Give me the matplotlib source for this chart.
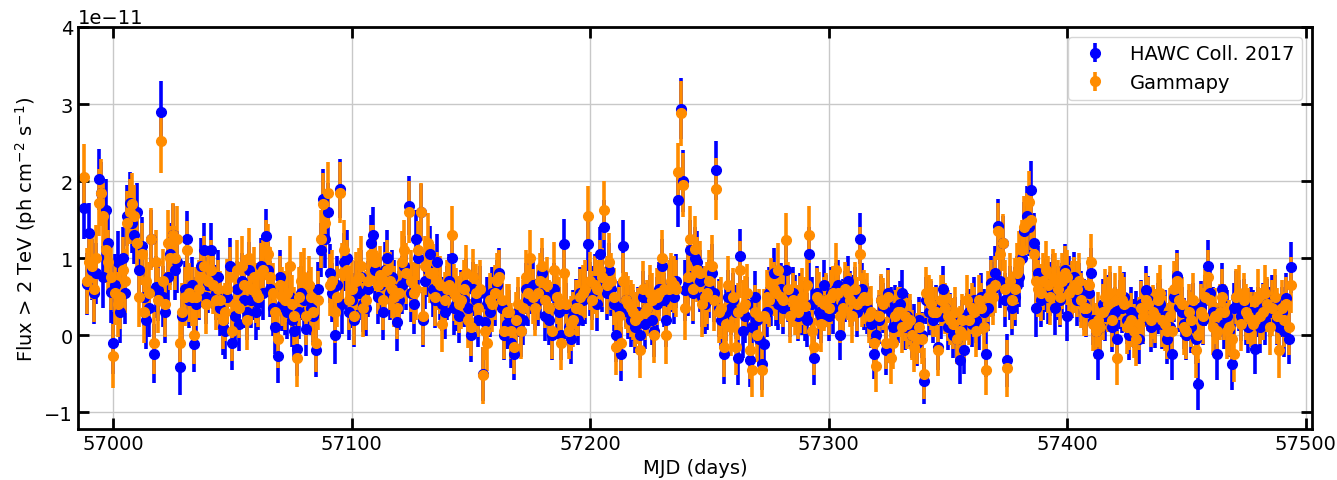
import numpy as np
import matplotlib.pyplot as plt

# daily light curve, flux > 2 TeV in units of 1e-11 ph cm-2 s-1
mjd_start = 56988
mjd_stop = 57495

hawc_flux = [
    1.65, 0.66, 1.32, 0.85, 0.55, 0.80, 2.02, 1.85, 0.75, 1.62,
    1.20, 0.56, -0.10, 0.65, 0.95, 0.30, 1.00, 0.55, 1.55, 1.72,
    1.45, 1.30, 1.60, 0.85, 1.15, 0.50, 0.20, 0.35, 1.25, -0.24,
    0.62, 0.58, 2.90, 0.50, 0.30, 0.75, 1.05, 1.30, 0.85, 0.95,
    -0.42, 0.25, 0.60, 1.25, 0.45, 0.65, -0.12, 0.40, 0.55, 0.90,
    1.10, 0.50, 0.65, 1.10, 0.70, 0.55, 0.75, 0.35, 0.10, 0.05,
    0.50, 0.90, -0.10, 0.25, 0.60, 0.15, 0.70, 0.45, 0.30, 0.85,
    0.45, 0.55, 0.30, 0.42, 0.90, 0.55, 1.28, 0.85, 0.60, 0.35,
    0.10, -0.27, 0.75, 0.40, 0.35, 0.30, 0.50, 0.20, 0.05, -0.18,
    0.30, 0.55, 0.45, 0.08, 0.48, 0.35, 0.25, -0.20, 0.60, 1.10,
    1.77, 1.25, 1.60, 0.80, 0.55, 0.00, 0.65, 1.90, 0.40, 0.95,
    1.00, 0.30, 0.45, 0.20, 0.60, 0.55, 0.75, 0.40, 0.35, 0.60,
    1.20, 1.30, 0.85, 0.50, 0.65, 0.30, 0.85, 1.00, 0.55, 0.75,
    0.60, 0.17, 0.45, 0.65, 0.90, 0.70, 1.68, 0.55, 0.40, 1.25,
    1.00, 1.60, 0.20, 0.70, 0.85, 1.05, 0.60, 0.45, 0.95, 0.55,
    0.40, 0.30, 0.55, 0.70, 1.00, 0.35, 0.40, 0.25, 0.50, 0.45,
    0.65, 0.35, 0.00, 0.60, 0.45, 0.20, 0.55, -0.50, 0.17, 0.40,
    0.30, 0.55, 0.45, 0.65, 0.80, 0.35, 0.00, 0.15, 0.25, -0.10,
    -0.25, 0.10, 0.30, 0.05, 0.20, 0.60, 0.45, 0.60, 0.65, 0.40,
    0.45, 0.55, 0.80, 0.25, 0.50, 0.20, 0.00, 0.60, 0.35, 0.30,
    0.00, 1.18, 0.35, 0.10, -0.05, 0.25, 0.40, 0.20, 0.55, 0.45,
    0.50, 1.18, 0.60, 0.55, 0.70, 0.40, 1.05, 0.65, 1.40, 0.55,
    0.85, 0.60, 0.40, 0.00, 0.35, -0.25, 1.15, 0.45, 0.30, 0.20,
    0.25, 0.10, 0.30, 0.00, 0.50, 0.15, 0.35, 0.45, 0.20, 0.05,
    0.40, 0.60, 0.90, 0.45, 0.20, 0.55, 0.65, 0.50, 0.70, 1.75,
    2.94, 2.00, 0.58, 0.65, 1.10, 0.55, 1.00, 0.95, 0.70, 0.50,
    0.40, 0.45, 0.60, 0.80, 0.55, 2.14, 0.35, 0.20, -0.25, 0.30,
    0.50, 0.35, 0.45, 0.30, -0.30, 1.03, 0.05, 0.25, 0.40, -0.33,
    0.10, 0.50, 0.20, -0.05, -0.38, -0.12, 0.30, 0.55, 0.45, 0.80,
    0.45, 0.40, 0.60, 0.35, 0.85, 0.50, 0.30, 0.55, 0.45, 0.25,
    0.45, 0.35, 0.27, 0.20, 1.05, 0.40, -0.30, 0.55, 0.30, 0.25,
    0.65, 0.45, 0.25, 0.55, 0.35, 0.60, 0.65, 0.00, 0.40, 0.50,
    0.70, 0.50, 0.45, 0.55, 0.30, 1.25, 0.60, 0.40, 0.35, 0.30,
    0.15, -0.25, 0.00, 0.20, 0.45, 0.35, -0.20, 0.55, 0.30, 0.10,
    0.35, 0.20, 0.40, 0.55, 0.10, 0.25, 0.15, 0.00, 0.10, -0.10,
    0.20, 0.00, -0.60, 0.45, 0.30, 0.40, 0.20, 0.35, -0.15, 0.25,
    0.60, 0.35, 0.10, 0.25, 0.00, 0.20, -0.05, -0.33, 0.15, -0.20,
    0.25, 0.30, 0.15, 0.45, 0.20, 0.10, 0.50, 0.30, -0.25, 0.35,
    0.68, 0.60, 0.80, 1.42, 0.70, 1.20, 0.45, -0.33, 0.55, 0.35,
    0.50, 0.65, 0.75, 1.00, 1.35, 1.55, 1.40, 1.88, 1.20, 0.35,
    0.80, 0.45, 0.55, 0.65, 0.50, 0.60, 0.70, 0.35, 0.55, 0.45,
    0.60, 0.85, 0.25, 0.70, 0.55, 0.75, 0.45, 0.60, 0.50, 0.40,
    0.30, 0.55, 0.80, 0.20, 0.05, -0.25, 0.10, 0.40, 0.25, 0.45,
    0.50, 0.10, 0.30, -0.05, 0.40, 0.35, 0.50, 0.20, 0.00, 0.30,
    0.15, 0.25, -0.05, 0.40, 0.20, 0.58, 0.45, 0.10, 0.30, 0.15,
    0.35, 0.40, 0.15, 0.25, -0.05, 0.10, -0.25, 0.50, 0.77, 0.37,
    0.30, 0.15, 0.00, 0.25, 0.10, 0.35, -0.05, -0.64, 0.37, 0.20,
    0.45, 0.90, 0.55, 0.30, 0.10, -0.25, 0.30, 0.60, 0.15, 0.25,
    0.05, -0.38, 0.35, 0.50, 0.38, 0.25, 0.40, 0.20, 0.10, 0.30,
    0.25, -0.18, 0.30, 0.10, 0.35, 0.20, 0.40, 0.30, 0.45, 0.45,
    0.20, 0.10, 0.30, 0.05, 0.48, -0.05, 0.88,
]

gammapy_flux = [
    2.05, 0.70, 0.95, 0.90, 0.60, 1.00, 1.72, 1.85, 1.55, 1.10,
    0.95, 0.75, -0.27, 0.55, 0.40, 0.50, 0.85, 0.70, 1.45, 1.60,
    1.70, 1.55, 1.20, 0.50, 1.05, 0.30, 0.70, 0.55, 1.25, -0.10,
    0.95, 0.45, 2.52, 0.70, 0.40, 1.20, 1.00, 1.30, 1.00, 1.25,
    -0.10, 0.30, 0.50, 1.10, 0.55, 0.50, 0.00, 0.50, 0.60, 0.75,
    0.90, 0.40, 0.70, 0.85, 0.65, 0.45, 0.60, 0.45, 0.20, 0.30,
    0.60, 0.75, 0.05, 0.40, 0.85, 0.35, 0.90, 0.65, 0.20, 1.00,
    0.60, 0.75, 0.55, 0.50, 0.80, 0.85, 1.10, 1.05, 0.75, 0.55,
    0.30, -0.05, 0.65, 0.50, 0.45, 0.55, 0.90, 0.40, 0.25, -0.30,
    0.50, 0.70, 0.75, 0.25, 0.65, 0.50, 0.30, -0.10, 0.45, 1.25,
    1.70, 1.45, 1.85, 0.65, 0.70, 0.30, 0.50, 1.85, 0.80, 1.10,
    0.85, 0.45, 0.60, 0.25, 0.70, 0.75, 0.90, 0.35, 0.45, 0.70,
    1.05, 1.05, 0.95, 0.65, 0.78, 0.45, 0.70, 0.85, 0.70, 0.60,
    0.50, 0.35, 0.55, 0.95, 1.10, 0.80, 1.60, 0.70, 0.55, 0.60,
    1.10, 1.60, 0.25, 0.90, 1.20, 0.80, 0.80, 0.50, 0.70, 0.65,
    0.15, 0.45, 0.60, 0.65, 1.30, 0.55, 0.50, 0.40, 0.45, 0.60,
    0.80, 0.20, 0.10, 0.75, 0.55, 0.35, 0.60, -0.52, 0.05, -0.10,
    0.45, 0.40, 0.55, 0.70, 0.75, 0.45, 0.05, 0.30, 0.30, 0.05,
    -0.15, 0.20, 0.40, 0.05, 0.35, 0.75, 0.55, 1.00, 0.50, 0.35,
    0.55, 0.70, 0.90, 0.45, 0.65, 0.35, 0.05, 0.85, 0.50, 0.40,
    -0.10, 0.80, 0.40, 0.05, 0.15, 0.20, 0.35, 0.35, 0.50, 0.55,
    0.60, 1.55, 0.70, 0.45, 0.65, 0.60, 0.85, 0.75, 1.62, 0.65,
    0.95, 0.70, 0.50, -0.15, 0.25, -0.10, 0.70, 0.45, 0.40, 0.35,
    0.30, 0.20, 0.25, -0.20, 0.60, 0.30, 0.35, 0.55, 0.45, 0.00,
    0.50, 0.55, 1.00, 0.60, 0.00, 0.60, 0.70, 0.65, 0.60, 2.12,
    2.88, 1.95, 0.35, 0.75, 1.25, 0.60, 1.12, 0.85, 0.80, 0.40,
    0.50, 0.55, 0.70, 0.90, 0.45, 1.90, 0.30, 0.35, -0.15, 0.15,
    0.65, 0.10, 0.50, -0.15, 0.30, 0.85, 0.35, 0.40, 0.55, -0.20,
    -0.45, 0.30, 0.00, 0.25, -0.45, 0.25, 0.50, 0.45, 0.65, 0.60,
    0.55, 0.85, 0.50, 0.45, 1.24, 0.60, 0.25, 0.45, 0.35, 0.30,
    0.40, 0.50, 0.38, 0.65, 1.30, 0.05, -0.15, 0.50, 0.45, 0.15,
    0.40, 0.45, 0.35, 0.50, 0.55, 0.85, 0.55, 0.25, 0.35, 0.60,
    0.55, 0.45, 0.25, 0.60, 0.40, 1.05, 0.45, 0.50, 0.45, 0.25,
    0.30, -0.10, -0.40, 0.25, 0.45, 0.40, -0.10, 0.50, -0.30, -0.10,
    0.25, 0.30, 0.30, 0.10, 0.25, 0.15, 0.20, 0.00, -0.15, -0.05,
    0.10, -0.05, -0.50, 0.55, 0.45, 0.40, 0.30, 0.30, -0.20, 0.45,
    0.45, 0.35, 0.25, 0.20, 0.15, 0.30, -0.05, 0.05, 0.20, 0.00,
    0.45, 0.20, 0.35, 0.30, 0.05, 0.45, 0.35, 0.10, -0.45, 0.50,
    0.60, 0.50, 0.65, 1.35, 1.05, 1.20, 0.60, -0.43, 0.70, 0.45,
    0.60, 0.80, 0.95, 1.10, 1.40, 1.45, 1.73, 1.50, 1.05, 0.70,
    0.60, 0.55, 0.70, 0.85, 0.65, 0.50, 0.75, 0.70, 0.60, 0.50,
    0.70, 0.80, 0.75, 0.55, 0.60, 0.65, 0.60, 0.70, 0.45, 0.35,
    0.35, 0.65, 0.95, 0.15, 0.05, 0.20, 0.10, 0.30, 0.50, 0.40,
    0.55, 0.20, 0.45, -0.30, 0.55, 0.45, 0.40, 0.10, 0.15, 0.20,
    0.05, -0.05, 0.15, 0.35, 0.25, 0.45, 0.40, 0.20, 0.30, 0.25,
    0.45, 0.55, 0.20, 0.15, 0.05, 0.25, 0.05, 0.60, 0.70, 0.45,
    0.40, 0.10, 0.05, 0.30, 0.20, 0.45, -0.20, 0.00, 0.30, 0.25,
    0.50, 0.75, 0.45, 0.10, 0.25, 0.05, 0.30, 0.50, 0.30, 0.05,
    0.10, -0.05, -0.25, 0.50, 0.55, 0.15, 0.45, 0.30, 0.25, 0.20,
    0.15, 0.20, 0.50, 0.25, 0.30, 0.55, 0.40, 0.10, 0.35, 0.50,
    0.25, -0.20, 0.35, 0.20, 0.40, 0.10, 0.65,
]

# 1-sigma errors, read per 10-day block
hawc_err_block = [
    0.40, 0.40, 0.38, 0.40, 0.36, 0.36, 0.36, 0.36, 0.35, 0.35,
    0.38, 0.36, 0.36, 0.38, 0.36, 0.35, 0.35, 0.33, 0.33, 0.33,
    0.33, 0.35, 0.35, 0.33, 0.35, 0.40, 0.38, 0.35, 0.33, 0.33,
    0.35, 0.33, 0.33, 0.32, 0.30, 0.30, 0.30, 0.30, 0.35, 0.38,
    0.35, 0.33, 0.33, 0.32, 0.32, 0.33, 0.33, 0.33, 0.33, 0.33, 0.33,
]
gammapy_err_block = [
    0.43, 0.42, 0.40, 0.42, 0.38, 0.38, 0.39, 0.39, 0.38, 0.38,
    0.40, 0.38, 0.38, 0.40, 0.38, 0.37, 0.37, 0.36, 0.36, 0.36,
    0.36, 0.38, 0.37, 0.36, 0.37, 0.42, 0.40, 0.37, 0.35, 0.35,
    0.37, 0.35, 0.35, 0.34, 0.33, 0.33, 0.33, 0.33, 0.37, 0.40,
    0.37, 0.36, 0.36, 0.35, 0.35, 0.36, 0.36, 0.36, 0.36, 0.36, 0.36,
]

mjd = np.arange(mjd_start, mjd_stop)
scale = 1e-11
h = np.array(hawc_flux) * scale
g = np.array(gammapy_flux) * scale
h_err = np.repeat(hawc_err_block, 10)[:len(mjd)] * scale
g_err = np.repeat(gammapy_err_block, 10)[:len(mjd)] * scale

plt.rcParams['font.size'] = 14
fig = plt.figure(figsize=(13.37, 4.81), dpi=100)
ax = fig.add_axes([0.0583, 0.106, 0.9230, 0.8358])

ax.errorbar(mjd, h, yerr=h_err, fmt='o', color='blue', ms=7, elinewidth=2.6,
            label='HAWC Coll. 2017')
ax.errorbar(mjd, g, yerr=g_err, fmt='o', color='darkorange', ms=7, elinewidth=2.6,
            label='Gammapy')

ax.set_xlim(56985.3, 57502.7)
ax.set_ylim(-1.22e-11, 4e-11)
ax.set_xticks([57000, 57100, 57200, 57300, 57400, 57500])
ax.set_yticks(np.arange(-1, 5) * scale)
ax.grid(True, color='#c8c8c8', lw=1)
ax.set_axisbelow(True)

ax.tick_params(direction='in', length=8, width=2, top=True, right=True, labelsize=14)
for sp in ax.spines.values():
    sp.set_linewidth(2)

ax.set_xlabel('MJD (days)')
ax.set_ylabel(r'Flux > 2 TeV (ph cm$^{-2}$ s$^{-1}$)')
ax.legend(loc='upper right', fontsize=14)

fig.savefig('out.png')
